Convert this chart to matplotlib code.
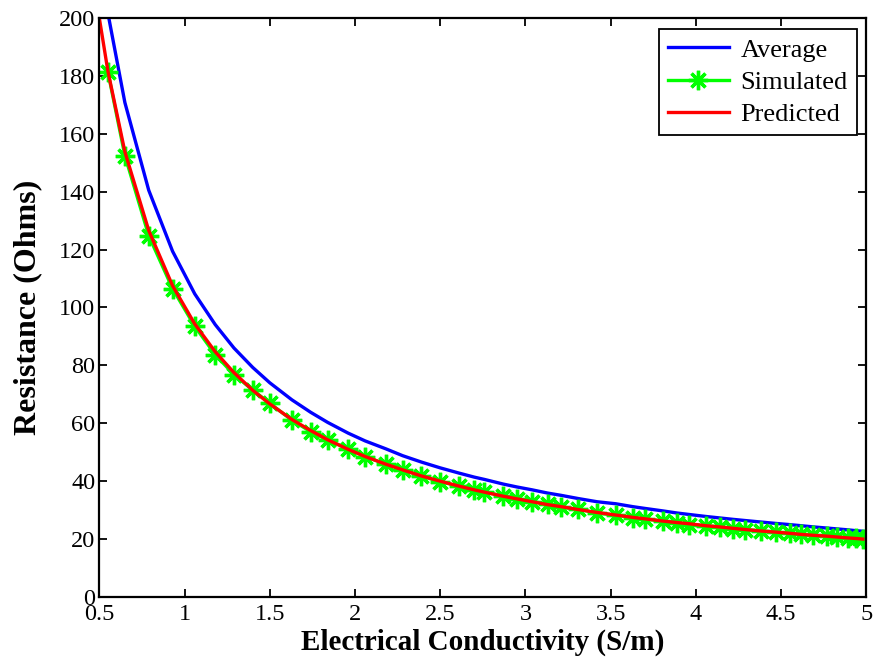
import matplotlib
matplotlib.use("Agg")
import matplotlib.pyplot as plt

# Conductivity sample points (S/m)
conductivity = [0.55, 0.65, 0.79, 0.93, 1.06, 1.18, 1.29, 1.40, 1.50, 1.63,
                1.74, 1.84, 1.96, 2.06, 2.18, 2.28, 2.39, 2.50, 2.61, 2.70,
                2.76, 2.87, 2.95, 3.04, 3.13, 3.21, 3.31, 3.42, 3.53, 3.63,
                3.70, 3.81, 3.89, 3.96, 4.06, 4.14, 4.22, 4.29, 4.38, 4.47,
                4.55, 4.62, 4.69, 4.77, 4.83, 4.89, 4.94, 4.98]

# Simulated resistance (Ohms)
simulated = [181.5, 152.5, 124.8, 106.5, 93.5, 83.7, 76.8, 71.5, 66.9, 61.1,
             57.1, 54.2, 51.2, 48.5, 45.9, 43.9, 41.8, 39.8, 38.3, 37.0,
             36.2, 35.0, 33.8, 32.9, 32.2, 31.0, 30.3, 29.0, 28.3, 27.4,
             27.0, 26.2, 25.6, 25.0, 24.6, 24.1, 23.6, 23.3, 22.8, 22.4,
             22.0, 21.6, 21.3, 21.0, 20.7, 20.5, 20.2, 20.1]

# Average and predicted curves include the 0.5 S/m end point
curve_x = [0.50] + conductivity
average = [222.0, 201.8, 170.8, 140.5, 119.4, 104.7, 94.1, 86.0, 79.3, 74.0, 68.1,
           63.8, 60.3, 56.6, 53.9, 51.2, 48.8, 46.6, 44.6, 42.8, 41.4,
           40.6, 39.0, 38.0, 37.0, 35.9, 35.1, 34.0, 32.9, 32.2, 31.2,
           30.6, 29.7, 29.0, 28.5, 27.8, 27.3, 26.8, 26.4, 25.9, 25.4,
           25.0, 24.6, 24.2, 23.8, 23.5, 23.2, 22.9, 22.7]
predicted = [200.0, 181.8, 153.8, 126.6, 107.5, 94.3, 84.7, 77.5, 71.4, 66.7, 61.3,
             57.5, 54.3, 51.0, 48.5, 45.9, 43.9, 41.8, 40.0, 38.3, 37.0,
             36.2, 34.8, 33.9, 32.9, 31.9, 31.2, 30.2, 29.2, 28.3, 27.5,
             27.0, 26.2, 25.7, 25.3, 24.6, 24.2, 23.7, 23.3, 22.8, 22.4,
             22.0, 21.6, 21.3, 21.0, 20.7, 20.4, 20.2, 20.0]

xticks = [0.5, 1, 1.5, 2, 2.5, 3, 3.5, 4, 4.5, 5]
xticklabels = ["0.5", "1", "1.5", "2", "2.5", "3", "3.5", "4", "4.5", "5"]
yticks = [0, 20, 40, 60, 80, 100, 120, 140, 160, 180, 200]

plt.rcParams["font.family"] = ["Liberation Serif", "DejaVu Serif"]

fig = plt.figure(figsize=(8.75, 6.67), dpi=100)
ax = fig.add_axes([0.1135, 0.105, 0.8765, 0.868])

ax.plot(curve_x, average, color=(0, 0, 1), lw=2.4, label="Average")
ax.plot(conductivity, simulated, color=(0, 1, 0), lw=2.4,
        marker=(8, 2, 0), markersize=14, markeredgewidth=2.4,
        markeredgecolor=(0, 1, 0), label="Simulated")
ax.plot(curve_x, predicted, color=(1, 0, 0), lw=2.4, label="Predicted")

ax.set_xlim(0.5, 5)
ax.set_ylim(0, 200)
ax.set_xticks(xticks)
ax.set_xticklabels(xticklabels)
ax.set_yticks(yticks)
ax.tick_params(direction="in", length=6, width=1.3, top=True, right=True,
               labelsize=17.5, pad=3)
ax.tick_params(axis="x", pad=5)
for sp in ax.spines.values():
    sp.set_linewidth(1.6)

ax.set_xlabel("Electrical Conductivity (S/m)", fontsize=21, fontweight="bold",
              labelpad=3)
ax.set_ylabel("Resistance (Ohms)", fontsize=23, fontweight="bold", labelpad=12)

leg = ax.legend(loc="upper right", bbox_to_anchor=(0.988, 0.981),
                borderaxespad=0, fontsize=19, fancybox=False,
                edgecolor="black", framealpha=1, handlelength=2.3,
                labelspacing=0.33, handletextpad=0.45, borderpad=0.35)
leg.get_frame().set_linewidth(1.3)

fig.savefig("out.png", dpi=100)
